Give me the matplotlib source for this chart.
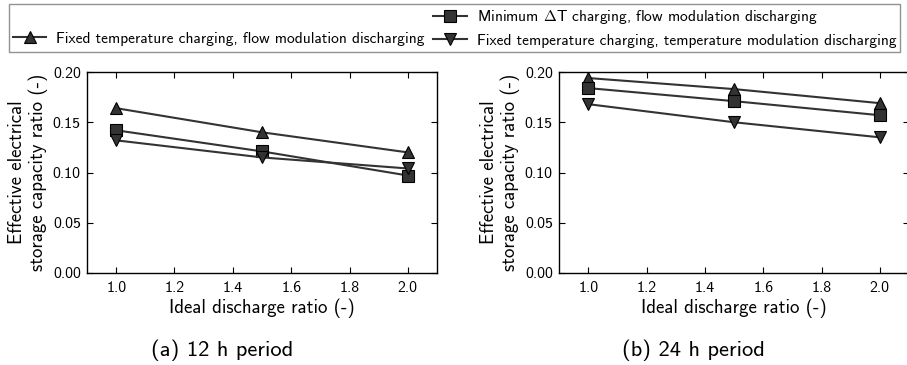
import matplotlib
matplotlib.use("Agg")
import matplotlib.pyplot as plt
from matplotlib.lines import Line2D

plt.rcParams["font.family"] = ["cmss10", "DejaVu Sans"]
plt.rcParams["mathtext.fontset"] = "cm"
plt.rcParams["axes.formatter.use_mathtext"] = True

ratios = [1.0, 1.5, 2.0]

series_labels = [
    "Fixed temperature charging, flow modulation discharging",
    r"Minimum $\Delta$T charging, flow modulation discharging",
    "Fixed temperature charging, temperature modulation discharging",
]
markers = ["^", "s", "v"]

# Effective electrical storage capacity ratio, 12 h period
period_12h = [
    [0.164, 0.140, 0.120],
    [0.142, 0.121, 0.097],
    [0.132, 0.115, 0.104],
]
# Effective electrical storage capacity ratio, 24 h period
period_24h = [
    [0.194, 0.183, 0.169],
    [0.184, 0.171, 0.157],
    [0.168, 0.150, 0.135],
]

captions = ["(a) 12 h period", "(b) 24 h period"]
yticks = [0.00, 0.05, 0.10, 0.15, 0.20]
xticks = [1.0, 1.2, 1.4, 1.6, 1.8, 2.0]

W, H = 907, 365
fig = plt.figure(figsize=(W / 100, H / 100), dpi=100)

axes_left = [87, 559]
ax_w, ax_top, ax_bot = 350, 72, 273
caption_x = [222, 693]

handles = []
for i, data in enumerate([period_12h, period_24h]):
    ax = fig.add_axes([axes_left[i] / W, 1 - ax_bot / H, ax_w / W, (ax_bot - ax_top) / H])
    hs = []
    for vals, m, lab in zip(data, markers, series_labels):
        h, = ax.plot(ratios, vals, marker=m, color="#333333", lw=1.5,
                     markersize=8.5, markerfacecolor="#333333",
                     markeredgecolor="black", markeredgewidth=0.8, label=lab)
        hs.append(h)
    if i == 0:
        handles = hs
    ax.set_xlim(0.9, 2.1)
    ax.set_ylim(0.0, 0.2)
    ax.set_xticks(xticks)
    ax.set_yticks(yticks)
    ax.set_xticklabels([f"{t:.1f}" for t in xticks])
    ax.set_yticklabels([f"{t:.2f}" for t in yticks])
    ax.tick_params(direction="in", top=True, right=True, length=4,
                   width=0.8, labelsize=11.4)
    ax.tick_params(axis="y", pad=4.5)
    ax.tick_params(axis="x", pad=6)
    for s in ax.spines.values():
        s.set_linewidth(1.0)
    ax.set_xlabel("Ideal discharge ratio (-)", fontsize=13.6, labelpad=2)
    ax.set_ylabel("Effective electrical\nstorage capacity ratio (-)",
                  fontsize=13.6, linespacing=1.15)
    ax.yaxis.set_label_coords(-39.0 / ax_w, 0.5)
    fig.text(caption_x[i] / W, 1 - 350 / H, captions[i], ha="center",
             va="center", fontsize=16.2)

blank = Line2D([], [], linestyle="none", marker="none")
leg = fig.legend([blank, handles[0], handles[1], handles[2]],
                 ["", series_labels[0], series_labels[1], series_labels[2]],
                 ncol=2, loc="upper left", bbox_to_anchor=(8.7 / W, 1 - 4.3 / H),
                 borderaxespad=0.0,
                 fontsize=11.1, frameon=True, fancybox=False, edgecolor="#777777",
                 handlelength=2.2, handletextpad=0.6, columnspacing=0.6,
                 labelspacing=0.5, borderpad=0.25, markerscale=0.95)
leg.get_frame().set_linewidth(1.0)

fig.savefig("out.png", dpi=100)
